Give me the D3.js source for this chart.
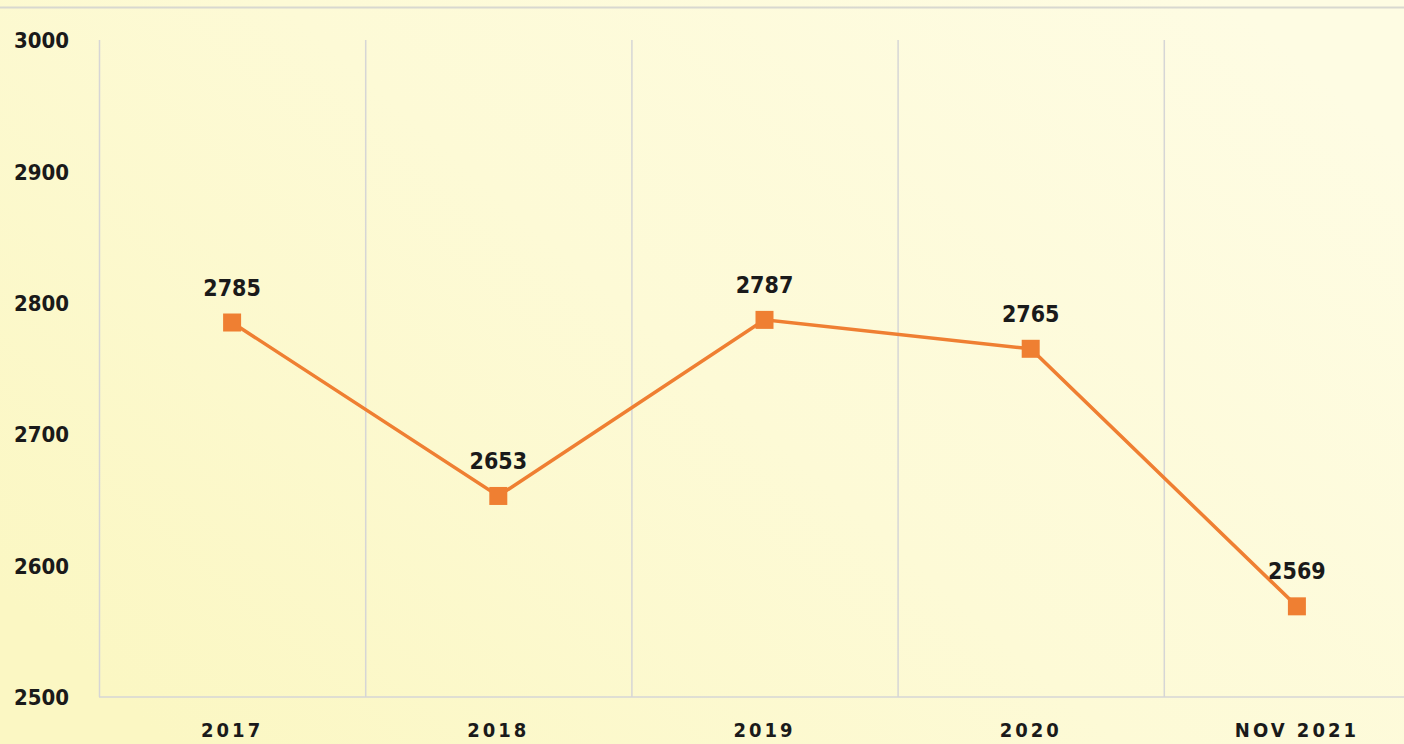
<!DOCTYPE html>
<html><head><meta charset="utf-8">
<script src="https://cdn.jsdelivr.net/npm/d3@7/dist/d3.min.js"></script>
<style>html,body{margin:0;padding:0;overflow:hidden;}svg{display:block;}</style>
</head><body>
<svg id="chart" width="1404" height="744"></svg>
<script>
const categories = ["2017", "2018", "2019", "2020", "NOV 2021"];
const values = [2785, 2653, 2787, 2765, 2569];
const yTicks = [2500, 2600, 2700, 2800, 2900, 3000];

const W = 1404, H = 744;
const svg = d3.select("#chart");
const defs = svg.append("defs");
const grad = defs.append("linearGradient").attr("id","bg").attr("x1","0").attr("y1","0.8").attr("x2","1").attr("y2","0.2");
grad.append("stop").attr("offset","0").attr("stop-color","#fbf7c3");
grad.append("stop").attr("offset","0.5").attr("stop-color","#fdfad6");
grad.append("stop").attr("offset","1").attr("stop-color","#fefce3");
svg.append("rect").attr("width",W).attr("height",H).attr("fill","url(#bg)");
svg.append("line").attr("x1",0).attr("x2",W).attr("y1",7.5).attr("y2",7.5).attr("stroke","#d8d8d0").attr("stroke-width",2);

const x = d3.scaleBand().domain(categories).range([99, 1430]).padding(0);
const y = d3.scaleLinear().domain([2500, 3000]).range([697, 40]);

const g = svg.append("g");
g.selectAll("line.v").data(categories).join("line")
  .attr("x1", d => x(d)+0.5).attr("x2", d => x(d)+0.5)
  .attr("y1", y(3000)).attr("y2", y(2500))
  .attr("stroke","#d6d6d6").attr("stroke-width",1.5);
g.append("line").attr("x1",99).attr("x2",W).attr("y1",y(2500)).attr("y2",y(2500))
  .attr("stroke","#d6d6d6").attr("stroke-width",1.5);

const font = "'Liberation Sans Narrow','DejaVu Sans Condensed','DejaVu Sans',sans-serif";

const yAxis = d3.axisLeft(y).tickValues(yTicks).tickSize(0).tickFormat(d3.format("d"));
const ya = svg.append("g").attr("transform","translate(14,0)").call(yAxis);
ya.select(".domain").remove();
ya.selectAll("text").attr("text-anchor","start").attr("x",0).attr("dy","0.35em")
  .attr("font-family",font).attr("font-weight","bold").attr("font-size","22px").attr("fill","#1a1a1a");

const xAxis = d3.axisBottom(x).tickSize(0);
const xa = svg.append("g").attr("transform","translate(0,"+y(2500)+")").call(xAxis);
xa.select(".domain").remove();
xa.selectAll("text").attr("y",26).attr("dy","0.71em")
  .attr("font-family",font).attr("font-weight","bold").attr("font-size","20px").attr("letter-spacing","3px").attr("fill","#1a1a1a");

const cx = d => x(d) + x.bandwidth()/2;
const data = categories.map((c,i)=>({c, v: values[i]}));

svg.append("path").datum(data)
  .attr("d", d3.line().x(d=>cx(d.c)).y(d=>y(d.v)))
  .attr("fill","none").attr("stroke","#ef7f32").attr("stroke-width",3.5);

svg.selectAll("rect.m").data(data).join("rect")
  .attr("x", d=>cx(d.c)-9).attr("y", d=>y(d.v)-9).attr("width",18).attr("height",18)
  .attr("fill","#ef7f32");

svg.selectAll("text.lbl").data(data).join("text")
  .attr("x", d=>cx(d.c)).attr("y", d=>y(d.v)-27)
  .attr("text-anchor","middle")
  .attr("font-family",font).attr("font-weight","bold").attr("font-size","23px").attr("fill","#1a1a1a")
  .text(d=>d.v);
</script>
</body></html>
